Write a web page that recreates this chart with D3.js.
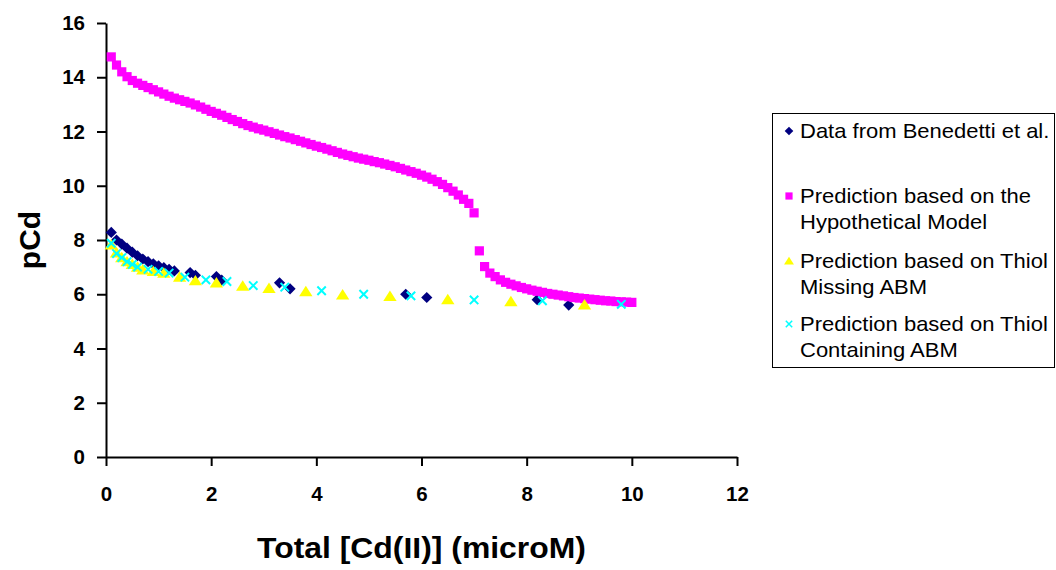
<!DOCTYPE html>
<html>
<head>
<meta charset="utf-8">
<script src="https://cdn.jsdelivr.net/npm/d3@7/dist/d3.min.js"></script>
<style>
  html, body { margin: 0; padding: 0; background: #fff; }
  svg { display: block; font-family: "Liberation Sans", Arial, sans-serif; }
</style>
</head>
<body>
<svg id="chart" width="1056" height="570"></svg>
<script>
// Data from Benedetti et al. (navy diamonds)
const benedettiX = [0.1, 0.2, 0.3, 0.4, 0.5, 0.6, 0.7, 0.8, 0.9, 1.0, 1.1, 1.2, 1.3, 1.6, 1.7, 2.1, 2.2, 3.3, 3.5, 5.7, 6.1, 8.2, 8.8]
const benedettiY = [8.28, 8.0, 7.85, 7.7, 7.55, 7.42, 7.3, 7.2, 7.12, 7.05, 6.98, 6.92, 6.86, 6.8, 6.7, 6.65, 6.52, 6.42, 6.2, 6.0, 5.88, 5.8, 5.6]

// Prediction based on the Hypothetical Model (magenta squares)
const hypoX = [
  0.1, 0.2, 0.3, 0.4, 0.5, 0.6, 0.7, 0.8, 0.9, 1.0,
  1.1, 1.2, 1.3, 1.4, 1.5, 1.6, 1.7, 1.8, 1.9, 2.0,
  2.1, 2.2, 2.3, 2.4, 2.5, 2.6, 2.7, 2.8, 2.9, 3.0,
  3.1, 3.2, 3.3, 3.4, 3.5, 3.6, 3.7, 3.8, 3.9, 4.0,
  4.1, 4.2, 4.3, 4.4, 4.5, 4.6, 4.7, 4.8, 4.9, 5.0,
  5.1, 5.2, 5.3, 5.4, 5.5, 5.6, 5.7, 5.8, 5.9, 6.0,
  6.1, 6.2, 6.3, 6.4, 6.5, 6.6, 6.7, 6.8, 6.9, 7.0,
  7.1, 7.2, 7.3, 7.4, 7.5, 7.6, 7.7, 7.8, 7.9, 8.0,
  8.1, 8.2, 8.3, 8.4, 8.5, 8.6, 8.7, 8.8, 8.9, 9.0,
  9.1, 9.2, 9.3, 9.4, 9.5, 9.6, 9.7, 9.8, 9.9, 10.0
]
const hypoY = [
  14.75, 14.45, 14.2, 14.02, 13.88, 13.78, 13.7, 13.62, 13.54, 13.46,
  13.38, 13.3, 13.23, 13.17, 13.11, 13.05, 12.98, 12.9, 12.82, 12.74,
  12.67, 12.6, 12.52, 12.44, 12.37, 12.29, 12.22, 12.16, 12.1, 12.05,
  11.99, 11.93, 11.87, 11.81, 11.76, 11.7, 11.64, 11.58, 11.52, 11.46,
  11.41, 11.35, 11.29, 11.23, 11.17, 11.12, 11.07, 11.02, 10.98, 10.94,
  10.89, 10.85, 10.8, 10.75, 10.7, 10.64, 10.58, 10.52, 10.46, 10.39,
  10.32, 10.24, 10.15, 10.05, 9.93, 9.8, 9.66, 9.5, 9.35, 9.0,
  7.6, 7.02, 6.78, 6.65, 6.53, 6.44, 6.37, 6.31, 6.25, 6.2,
  6.15, 6.11, 6.07, 6.03, 6.0, 5.97, 5.94, 5.91, 5.88, 5.86,
  5.84, 5.82, 5.8, 5.78, 5.76, 5.75, 5.73, 5.72, 5.71, 5.7
]

// Prediction based on Thiol Missing ABM (yellow triangles)
const missingX = [0.1, 0.2, 0.3, 0.4, 0.5, 0.6, 0.7, 0.9, 1.1, 1.4, 1.7, 2.1, 2.6, 3.1, 3.8, 4.5, 5.4, 6.5, 7.7, 9.1]
const missingY = [7.82, 7.53, 7.35, 7.2, 7.1, 7.0, 6.9, 6.84, 6.78, 6.63, 6.5, 6.42, 6.3, 6.22, 6.1, 5.98, 5.92, 5.8, 5.73, 5.61]

// Prediction based on Thiol Containing ABM (cyan crosses)
const containingX = [0.1, 0.2, 0.3, 0.4, 0.5, 0.6, 0.8, 1.0, 1.2, 1.5, 1.9, 2.3, 2.8, 3.4, 4.1, 4.9, 5.8, 7.0, 8.3, 9.8]
const containingY = [7.88, 7.5, 7.35, 7.2, 7.1, 7.0, 6.92, 6.84, 6.78, 6.63, 6.53, 6.47, 6.32, 6.26, 6.13, 6.0, 5.94, 5.79, 5.76, 5.63]

const xTicks = [0, 2, 4, 6, 8, 10, 12]
const yTicks = [0, 2, 4, 6, 8, 10, 12, 14, 16]

const legendLines = [
  ["Data from Benedetti et al."],
  ["Prediction based on the", "Hypothetical Model"],
  ["Prediction based on Thiol", "Missing ABM"],
  ["Prediction based on Thiol", "Containing ABM"]
]

const zip = (xs, ys) => xs.map((x, i) => ({ x, y: ys[i] }))

const svg = d3.select("#chart")

const x = d3.scaleLinear().domain([0, 12]).range([106, 737])
const y = d3.scaleLinear().domain([0, 16]).range([457, 23])

// Axes
const xAxis = svg.append("g")
  .attr("transform", `translate(0,${y(0)})`)
  .call(d3.axisBottom(x).tickValues(xTicks).tickSize(9).tickPadding(20).tickSizeOuter(0))
const yAxis = svg.append("g")
  .attr("transform", `translate(${x(0)},0)`)
  .call(d3.axisLeft(y).tickValues(yTicks).tickSize(9).tickPadding(12).tickSizeOuter(0))

for (const ax of [xAxis, yAxis]) {
  ax.select(".domain").attr("stroke", "#000").attr("stroke-width", 2)
  ax.selectAll(".tick line").attr("stroke", "#000").attr("stroke-width", 2)
  ax.selectAll(".tick text")
    .attr("fill", "#000")
    .attr("font-size", 20.5)
    .attr("font-weight", "bold")
    .attr("font-family", '"Liberation Sans", Arial, sans-serif')
}

// Axis titles
const xMid = (x(0) + x(12)) / 2
svg.append("text")
  .attr("x", xMid)
  .attr("y", 558)
  .attr("text-anchor", "middle")
  .attr("font-size", 29)
  .attr("font-weight", "bold")
  .attr("transform", `translate(${xMid},0) scale(1.1,1) translate(${-xMid},0)`)
  .text("Total [Cd(II)] (microM)")

svg.append("text")
  .attr("transform", `translate(40,${(y(0) + y(16)) / 2}) rotate(-90)`)
  .attr("text-anchor", "middle")
  .attr("font-size", 30)
  .attr("font-weight", "bold")
  .text("pCd")

// Marker shapes
const diamond = s => `M0,${-s}L${s},0L0,${s}L${-s},0Z`
const square = s => `M${-s},${-s}H${s}V${s}H${-s}Z`
const triangle = s => `M0,${-s}L${s * 1.15},${s * 0.8}L${-s * 1.15},${s * 0.8}Z`
const cross = s => `M${-s},${-s}L${s},${s}M${-s},${s}L${s},${-s}`

const series = [
  { data: zip(benedettiX, benedettiY), path: diamond(5.6), fill: "#000080", stroke: "none", legend: diamond(4.3) },
  { data: zip(hypoX, hypoY), path: square(4.6), fill: "#ff00ff", stroke: "none", legend: square(3.6) },
  { data: zip(missingX, missingY), path: triangle(5.8), fill: "#ffff00", stroke: "none", legend: triangle(4.3) },
  { data: zip(containingX, containingY), path: cross(4.2), fill: "none", stroke: "#00ffff", legend: cross(3.2) }
]

const plot = svg.append("g")
series.forEach(s => {
  plot.append("g")
    .selectAll("path")
    .data(s.data)
    .join("path")
    .attr("transform", d => `translate(${x(d.x)},${y(d.y)})`)
    .attr("d", s.path)
    .attr("fill", s.fill)
    .attr("stroke", s.stroke)
    .attr("stroke-width", 2)
})

// Legend
const legend = svg.append("g")
legend.append("rect")
  .attr("x", 772.5).attr("y", 113.5)
  .attr("width", 282).attr("height", 254)
  .attr("fill", "#fff").attr("stroke", "#000").attr("stroke-width", 1)

const entryBase = [138, 203, 268, 331]
series.forEach((s, i) => {
  legend.append("path")
    .attr("transform", `translate(789,${entryBase[i] - 7})`)
    .attr("d", s.legend)
    .attr("fill", s.fill)
    .attr("stroke", s.stroke)
    .attr("stroke-width", 1.5)
  legendLines[i].forEach((line, j) => {
    legend.append("text")
      .attr("transform", `translate(800,${entryBase[i] + j * 26}) scale(1.1,1)`)
      .attr("font-size", 20)
      .attr("fill", "#000")
      .text(line)
  })
})
</script>
</body>
</html>
